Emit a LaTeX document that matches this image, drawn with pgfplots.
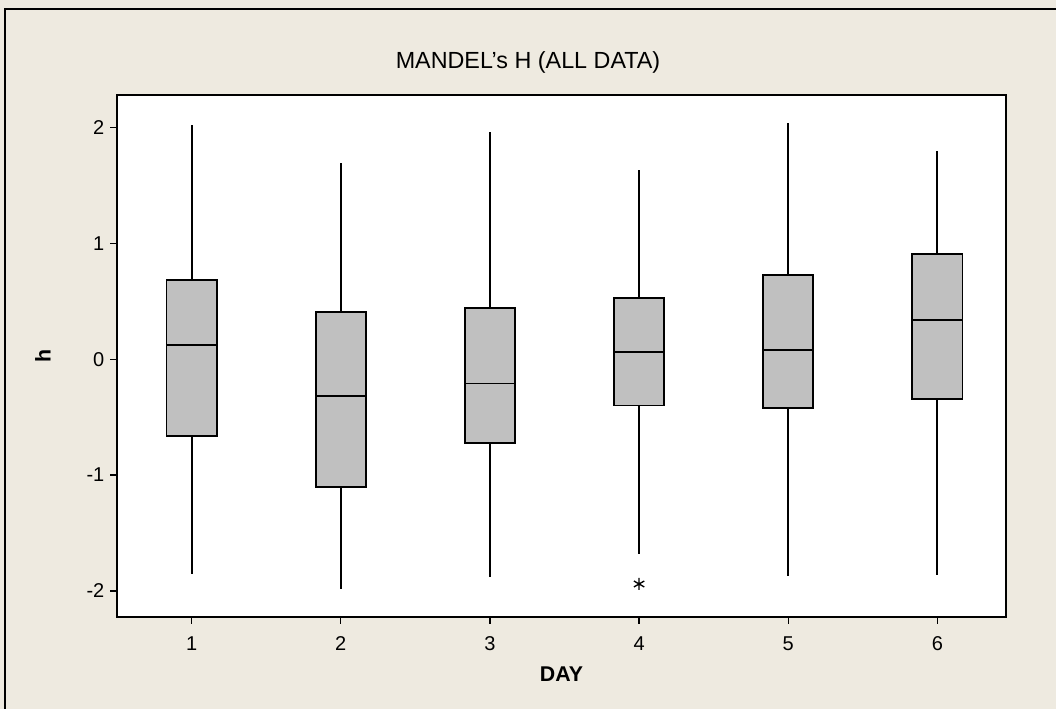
\documentclass[border=0pt]{standalone}
\usepackage{pgfplots}
\pgfplotsset{compat=1.18}
\usepgfplotslibrary{statistics}
\usepackage{fontspec}
\setmainfont{Liberation Sans}
\definecolor{bg}{HTML}{EEEAE0}
\definecolor{boxgray}{HTML}{C0C0C0}
\begin{document}
\begin{tikzpicture}
\fill[bg] (0,0) rectangle (792pt,531.75pt);
\draw[line width=1.5pt] (3.4pt,0) -- (3.4pt,525pt) -- (792pt,525pt);
\node[font=\fontsize{17.5}{20}\selectfont] at (396pt,485pt) {MANDEL's H (ALL DATA)};
\begin{axis}[
  at={(87.75pt,69pt)}, anchor=south west,
  scale only axis, width=666.75pt, height=391.5pt,
  xmin=0.5, xmax=6.46, ymin=-2.225, ymax=2.28,
  axis background/.style={fill=white},
  axis line style={line width=1.3pt},
  xtick={1,2,3,4,5,6}, xticklabels={1,2,3,4,5,6},
  ytick={-2,-1,0,1,2}, yticklabels={-2,-1,0,1,2},
  tick align=outside, xtick pos=bottom, ytick pos=left,
  major tick length=5pt,
  every tick/.style={black, line width=1pt},
  tick label style={font=\fontsize{15}{17}\selectfont},
  xticklabel style={yshift=-6pt},
  yticklabel style={xshift=-1pt},
  xlabel={\textbf{DAY}}, ylabel={\textbf{h}},
  label style={font=\fontsize{16}{18}\selectfont},
  xlabel style={yshift=-5pt},
  ylabel style={yshift=20pt},
  boxplot/draw direction=y,
  boxplot/box extend=0.336,
  boxplot/whisker extend=0,
  boxplot/every median/.style={line width=1.4pt},
  boxplot/every whisker/.style={line width=1.4pt},
]
\addplot[boxplot prepared={draw position=1, lower whisker=-1.85, lower quartile=-0.66, median=0.12, upper quartile=0.68, upper whisker=2.02}, fill=boxgray, draw=black, line width=1.4pt] coordinates {};
\addplot[boxplot prepared={draw position=2, lower whisker=-1.98, lower quartile=-1.10, median=-0.32, upper quartile=0.41, upper whisker=1.69}, fill=boxgray, draw=black, line width=1.4pt] coordinates {};
\addplot[boxplot prepared={draw position=3, lower whisker=-1.88, lower quartile=-0.72, median=-0.21, upper quartile=0.44, upper whisker=1.96}, fill=boxgray, draw=black, line width=1.4pt] coordinates {};
\addplot[boxplot prepared={draw position=4, lower whisker=-1.68, lower quartile=-0.40, median=0.06, upper quartile=0.53, upper whisker=1.63}, fill=boxgray, draw=black, line width=1.4pt, mark=asterisk, mark size=4.5pt, mark options={line width=1pt}] coordinates {(0,-1.94)};
\addplot[boxplot prepared={draw position=5, lower whisker=-1.87, lower quartile=-0.42, median=0.08, upper quartile=0.73, upper whisker=2.04}, fill=boxgray, draw=black, line width=1.4pt] coordinates {};
\addplot[boxplot prepared={draw position=6, lower whisker=-1.86, lower quartile=-0.34, median=0.34, upper quartile=0.91, upper whisker=1.80}, fill=boxgray, draw=black, line width=1.4pt] coordinates {};
\end{axis}
\pgfresetboundingbox
\path (0,0) rectangle (792pt,531.75pt);
\end{tikzpicture}
\end{document}
